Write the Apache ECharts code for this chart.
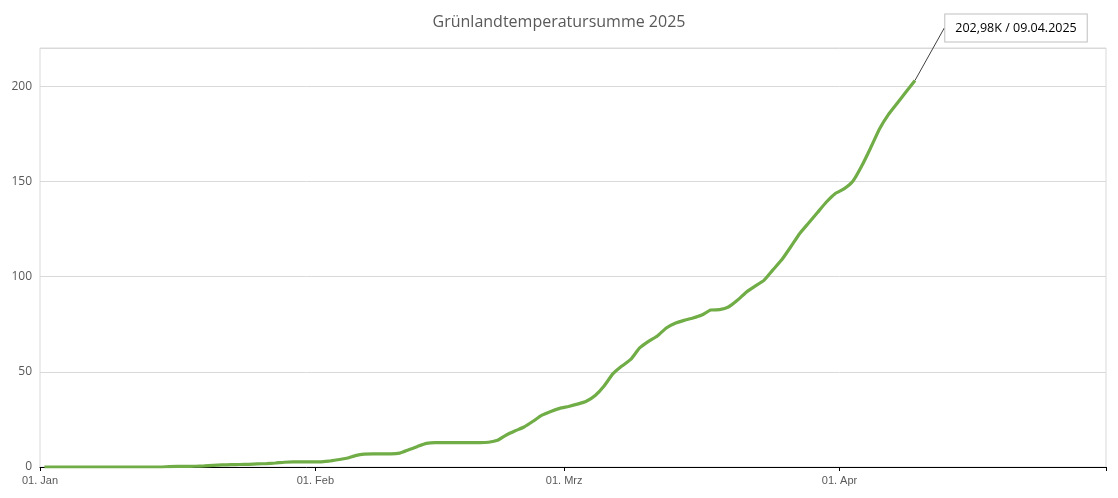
<!DOCTYPE html>
<html><head><meta charset="utf-8">
<script src="https://cdn.jsdelivr.net/npm/echarts@6/dist/echarts.min.js"></script>
<style>html,body{margin:0;padding:0;background:#fff}#c{width:1118px;height:498px}</style>
</head><body><div id="c"></div>
<script>
const titleText = 'Grünlandtemperatursumme 2025';
const monthStartDays = [0, 31, 59, 90, 120];
const monthLabels = ['01. Jan', '01. Feb', '01. Mrz', '01. Apr', ''];
const yTicks = [0, 50, 100, 150, 200];
const endLabel = '202,98K / 09.04.2025';
// daily cumulative values, 01.01.2025 .. 09.04.2025
const sumValues = [
  0,0,0,0,0,0,0,0,0,0,0,0,0,0,
  0.2,0.3,0.3,0.4,0.6,0.9,1.1,1.2,1.3,1.4,1.6,1.8,2.1,2.5,2.7,2.7,2.7,
  2.7,3.1,3.8,4.6,6.0,6.8,6.9,6.9,6.9,7.3,9.0,10.8,12.4,12.8,12.8,12.8,12.8,12.8,12.8,13.0,14.0,16.8,19.0,21.0,24.0,27.2,29.2,
  30.8,31.8,33.0,34.5,37.5,42.5,49.0,53.0,56.5,62.5,66.0,68.8,73.0,75.5,77.0,78.2,79.8,82.4,82.6,84.0,87.5,91.8,95.0,98.0,103.5,108.8,115.5,122.5,128.0,133.5,139.0,143.5,
  146.0,150.0,158.0,167.5,177.5,185.0,191.0,197.0,202.98
];

const lastIdx = sumValues.length - 1;
// each day's point sits in the middle of its day on the date axis
const seriesData = sumValues.map((v, i) => {
  const item = {value: [i + 0.5, v]};
  if (i === lastIdx) {
    item.label = {show: true};
    item.labelLine = {show: true};
  }
  return item;
});

const chart = echarts.init(document.getElementById('c'), null, {renderer: 'canvas'});
chart.setOption({
  animation: false,
  title: {
    text: titleText, left: 'center', top: 9,
    textStyle: {fontFamily: 'Open Sans', fontSize: 16, fontWeight: 'normal', color: '#595959'}
  },
  grid: {left: 40, right: 12, top: 48, bottom: 31, show: true, borderColor: '#d9d9d9', borderWidth: 1},
  xAxis: {
    type: 'value', min: 0, max: 120,
    axisLine: {show: true, lineStyle: {color: '#000', width: 1}},
    axisTick: {show: true, customValues: monthStartDays, length: 4, lineStyle: {color: '#000'}},
    axisLabel: {
      customValues: monthStartDays.slice(0, 4),
      formatter: v => monthLabels[monthStartDays.indexOf(v)],
      color: '#595959', fontFamily: 'Liberation Sans', fontSize: 11, margin: 8
    },
    splitLine: {show: false}
  },
  yAxis: {
    type: 'value', min: 0, max: 220, interval: 50,
    axisLine: {show: false}, axisTick: {show: false},
    axisLabel: {
      customValues: yTicks,
      color: '#595959', fontFamily: 'Open Sans', fontSize: 12, margin: 8
    },
    splitLine: {show: true, lineStyle: {color: '#d9d9d9', width: 1}}
  },
  series: [{
    type: 'line', data: seriesData, showSymbol: true, symbol: 'circle', symbolSize: 0,
    smooth: 0.15,
    lineStyle: {color: '#70ad47', width: 3.2},
    itemStyle: {color: '#70ad47'},
    z: 3,
    label: {
      show: false,
      formatter: () => endLabel,
      color: '#000', fontFamily: 'Open Sans', fontSize: 12.5,
      backgroundColor: '#fff', borderColor: '#bfbfbf', borderWidth: 1,
      padding: [7, 10, 7, 10]
    },
    labelLine: {show: false, lineStyle: {color: '#404040', width: 1}},
    labelLayout: p => p.dataIndex === lastIdx
      ? {x: 1016, y: 28, align: 'center', verticalAlign: 'middle', hideOverlap: false}
      : {}
  }]
});
</script></body></html>
